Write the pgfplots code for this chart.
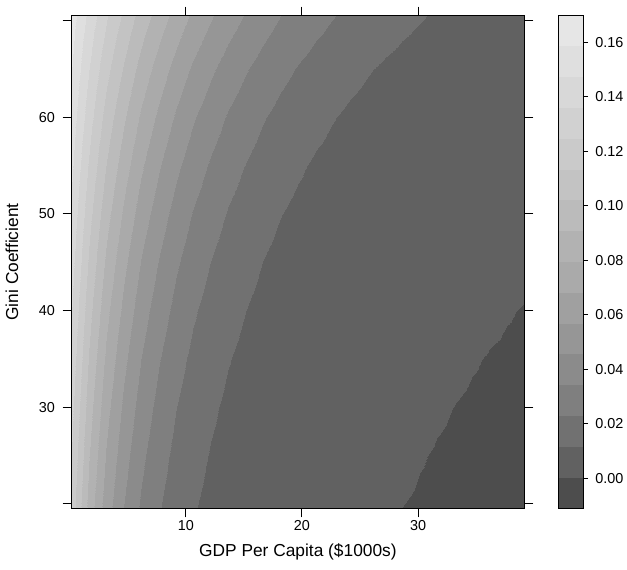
\documentclass[border=0pt]{standalone}
\usepackage{pgfplots}
\pgfplotsset{compat=1.18}
\usepackage{fontspec}
\setmainfont{Liberation Sans}
\pgfplotsset{colormap={lattice}{rgb255(0cm)=(77,77,77) rgb255(1cm)=(97,97,97) rgb255(2cm)=(113,113,113) rgb255(3cm)=(127,127,127) rgb255(4cm)=(139,139,139) rgb255(5cm)=(150,150,150) rgb255(6cm)=(160,160,160) rgb255(7cm)=(170,170,170) rgb255(8cm)=(178,178,178) rgb255(9cm)=(187,187,187) rgb255(10cm)=(195,195,195) rgb255(11cm)=(202,202,202) rgb255(12cm)=(209,209,209) rgb255(13cm)=(216,216,216) rgb255(14cm)=(223,223,223) rgb255(15cm)=(230,230,230) rgb255(16cm)=(230,230,230)}}
\definecolor{c0}{RGB}{77,77,77}
\definecolor{c1}{RGB}{97,97,97}
\definecolor{c2}{RGB}{113,113,113}
\definecolor{c3}{RGB}{127,127,127}
\definecolor{c4}{RGB}{139,139,139}
\definecolor{c5}{RGB}{150,150,150}
\definecolor{c6}{RGB}{160,160,160}
\definecolor{c7}{RGB}{170,170,170}
\definecolor{c8}{RGB}{178,178,178}
\definecolor{c9}{RGB}{187,187,187}
\definecolor{c10}{RGB}{195,195,195}
\definecolor{c11}{RGB}{202,202,202}
\definecolor{c12}{RGB}{209,209,209}
\definecolor{c13}{RGB}{216,216,216}
\definecolor{c14}{RGB}{223,223,223}
\definecolor{c15}{RGB}{230,230,230}
\newcommand{\tickfont}{\fontsize{10.8}{13}\selectfont}
\newcommand{\labfont}{\fontsize{13}{15}\selectfont}
\begin{document}
\begin{tikzpicture}
\useasboundingbox (0pt,0pt) rectangle (470.25pt,426.75pt);
\begin{axis}[at={(53.625pt,45.525pt)}, anchor=south west, scale only axis,
  width=339.6pt, height=369.45pt,
  xmin=0.15, xmax=39.15, ymin=19.55, ymax=70.5,
  xtick={10,20,30}, xticklabels={10,20,30},
  ytick={20,30,40,50,60,70}, yticklabels={,30,40,50,60,},
  tick align=outside, major tick length=6.75pt,
  every tick/.style={black, line width=0.75pt},
  axis line style={black, line width=0.75pt},
  axis on top,
  colormap name=lattice, colormap access=piecewise constant,
  point meta min=-0.01105, point meta max=0.16975,
  xticklabel style={font=\tickfont, anchor=center, inner sep=0pt, yshift=-6.5pt},
  yticklabel style={font=\tickfont, anchor=east, inner sep=0pt, xshift=-5.6pt},
  xlabel={GDP Per Capita (\$1000s)}, ylabel={Gini Coefficient},
  xlabel style={font=\labfont, at={(axis description cs:0.5,-0.0887)}, anchor=center, inner sep=0pt},
  ylabel style={font=\labfont, at={(axis description cs:-0.1314,0.5)}, anchor=center, inner sep=0pt},
]
\addplot[surf, shader=interp, mesh/cols=27, point meta=explicit] coordinates {
(0.15,19.55)[0.11933] (1.65,19.55)[0.086275] (3.15,19.55)[0.062375] (4.65,19.55)[0.045096] (6.15,19.55)[0.032603] (7.65,19.55)[0.023571] (9.15,19.55)[0.017042] (10.65,19.55)[0.012321] (12.15,19.55)[0.0089078] (13.65,19.55)[0.0064401] (15.15,19.55)[0.004656] (16.65,19.55)[0.0033662] (18.15,19.55)[0.0024337] (19.65,19.55)[0.0017595] (21.15,19.55)[0.0012721] (22.65,19.55)[0.0009197] (24.15,19.55)[0.00066492] (25.65,19.55)[0.00048073] (27.15,19.55)[0.00034756] (28.65,19.55)[0.00025128] (30.15,19.55)[0.00018167] (31.65,19.55)[0.00013134] (33.15,19.55)[0.000094957] (34.65,19.55)[0.000068652] (36.15,19.55)[0.000049634] (37.65,19.55)[0.000035884] (39.15,19.55)[0.000025943]
(0.15,25)[0.12343] (1.65,25)[0.091112] (3.15,25)[0.067256] (4.65,25)[0.049646] (6.15,25)[0.036647] (7.65,25)[0.027052] (9.15,25)[0.019969] (10.65,25)[0.01474] (12.15,25)[0.010881] (13.65,25)[0.0080317] (15.15,25)[0.0059288] (16.65,25)[0.0043764] (18.15,25)[0.0032305] (19.65,25)[0.0023847] (21.15,25)[0.0017603] (22.65,25)[0.0012994] (24.15,25)[0.00095917] (25.65,25)[0.00070803] (27.15,25)[0.00052264] (28.65,25)[0.0003858] (30.15,25)[0.00028479] (31.65,25)[0.00021022] (33.15,25)[0.00015518] (34.65,25)[0.00011455] (36.15,25)[0.000084557] (37.65,25)[0.000062418] (39.15,25)[0.000046075]
(0.15,30)[0.12732] (1.65,30)[0.095792] (3.15,30)[0.072072] (4.65,30)[0.054225] (6.15,30)[0.040797] (7.65,30)[0.030695] (9.15,30)[0.023094] (10.65,30)[0.017376] (12.15,30)[0.013073] (13.65,30)[0.0098357] (15.15,30)[0.0074001] (16.65,30)[0.0055677] (18.15,30)[0.004189] (19.65,30)[0.0031517] (21.15,30)[0.0023713] (22.65,30)[0.0017841] (24.15,30)[0.0013423] (25.65,30)[0.0010099] (27.15,30)[0.00075983] (28.65,30)[0.00057168] (30.15,30)[0.00043012] (31.65,30)[0.00032361] (33.15,30)[0.00024348] (34.65,30)[0.00018319] (36.15,30)[0.00013783] (37.65,30)[0.0001037] (39.15,30)[0.000078021]
(0.15,35)[0.13132] (1.65,35)[0.1007] (3.15,35)[0.077223] (4.65,35)[0.059219] (6.15,35)[0.045413] (7.65,35)[0.034825] (9.15,35)[0.026706] (10.65,35)[0.02048] (12.15,35)[0.015705] (13.65,35)[0.012044] (15.15,35)[0.0092359] (16.65,35)[0.0070826] (18.15,35)[0.0054314] (19.65,35)[0.0041652] (21.15,35)[0.0031941] (22.65,35)[0.0024494] (24.15,35)[0.0018784] (25.65,35)[0.0014405] (27.15,35)[0.0011047] (28.65,35)[0.00084715] (30.15,35)[0.00064966] (31.65,35)[0.0004982] (33.15,35)[0.00038205] (34.65,35)[0.00029298] (36.15,35)[0.00022468] (37.65,35)[0.0001723] (39.15,35)[0.00013213]
(0.15,40)[0.13545] (1.65,40)[0.10587] (3.15,40)[0.082754] (4.65,40)[0.064684] (6.15,40)[0.050559] (7.65,40)[0.039518] (9.15,40)[0.030888] (10.65,40)[0.024143] (12.15,40)[0.018871] (13.65,40)[0.01475] (15.15,40)[0.011529] (16.65,40)[0.0090114] (18.15,40)[0.0070436] (19.65,40)[0.0055055] (21.15,40)[0.0043033] (22.65,40)[0.0033636] (24.15,40)[0.0026291] (25.65,40)[0.002055] (27.15,40)[0.0016062] (28.65,40)[0.0012554] (30.15,40)[0.00098126] (31.65,40)[0.00076698] (33.15,40)[0.00059949] (34.65,40)[0.00046858] (36.15,40)[0.00036625] (37.65,40)[0.00028628] (39.15,40)[0.00022377]
(0.15,45)[0.13972] (1.65,45)[0.11131] (3.15,45)[0.088677] (4.65,45)[0.070647] (6.15,45)[0.056283] (7.65,45)[0.044839] (9.15,45)[0.035722] (10.65,45)[0.028459] (12.15,45)[0.022672] (13.65,45)[0.018062] (15.15,45)[0.01439] (16.65,45)[0.011464] (18.15,45)[0.0091331] (19.65,45)[0.0072761] (21.15,45)[0.0057967] (22.65,45)[0.0046181] (24.15,45)[0.0036791] (25.65,45)[0.0029311] (27.15,45)[0.0023352] (28.65,45)[0.0018604] (30.15,45)[0.0014821] (31.65,45)[0.0011808] (33.15,45)[0.00094071] (34.65,45)[0.00074944] (36.15,45)[0.00059706] (37.65,45)[0.00047566] (39.15,45)[0.00037895]
(0.15,50)[0.14412] (1.65,50)[0.11702] (3.15,50)[0.095025] (4.65,50)[0.077161] (6.15,50)[0.062655] (7.65,50)[0.050876] (9.15,50)[0.041312] (10.65,50)[0.033546] (12.15,50)[0.02724] (13.65,50)[0.022119] (15.15,50)[0.017961] (16.65,50)[0.014585] (18.15,50)[0.011843] (19.65,50)[0.0096166] (21.15,50)[0.0078088] (22.65,50)[0.0063408] (24.15,50)[0.0051487] (25.65,50)[0.0041808] (27.15,50)[0.0033948] (28.65,50)[0.0027566] (30.15,50)[0.0022384] (31.65,50)[0.0018176] (33.15,50)[0.0014759] (34.65,50)[0.0011984] (36.15,50)[0.00097312] (37.65,50)[0.0007902] (39.15,50)[0.00064165]
(0.15,55)[0.14864] (1.65,55)[0.12302] (3.15,55)[0.10182] (4.65,55)[0.084271] (6.15,55)[0.069747] (7.65,55)[0.057726] (9.15,55)[0.047777] (10.65,55)[0.039543] (12.15,55)[0.032727] (13.65,55)[0.027087] (15.15,55)[0.022419] (16.65,55)[0.018555] (18.15,55)[0.015357] (19.65,55)[0.012711] (21.15,55)[0.01052] (22.65,55)[0.008707] (24.15,55)[0.0072063] (25.65,55)[0.0059643] (27.15,55)[0.0049363] (28.65,55)[0.0040855] (30.15,55)[0.0033814] (31.65,55)[0.0027986] (33.15,55)[0.0023163] (34.65,55)[0.001917] (36.15,55)[0.0015866] (37.65,55)[0.0013132] (39.15,55)[0.0010869]
(0.15,60)[0.15332] (1.65,60)[0.12934] (3.15,60)[0.10911] (4.65,60)[0.092042] (6.15,60)[0.077645] (7.65,60)[0.0655] (9.15,60)[0.055255] (10.65,60)[0.046612] (12.15,60)[0.039321] (13.65,60)[0.033171] (15.15,60)[0.027983] (16.65,60)[0.023606] (18.15,60)[0.019913] (19.65,60)[0.016798] (21.15,60)[0.01417] (22.65,60)[0.011954] (24.15,60)[0.010084] (25.65,60)[0.0085067] (27.15,60)[0.0071761] (28.65,60)[0.0060536] (30.15,60)[0.0051067] (31.65,60)[0.0043079] (33.15,60)[0.003634] (34.65,60)[0.0030656] (36.15,60)[0.0025861] (37.65,60)[0.0021816] (39.15,60)[0.0018403]
(0.15,65)[0.15815] (1.65,65)[0.13598] (3.15,65)[0.11692] (4.65,65)[0.10053] (6.15,65)[0.086438] (7.65,65)[0.074321] (9.15,65)[0.063903] (10.65,65)[0.054945] (12.15,65)[0.047243] (13.65,65)[0.04062] (15.15,65)[0.034926] (16.65,65)[0.03003] (18.15,65)[0.02582] (19.65,65)[0.0222] (21.15,65)[0.019088] (22.65,65)[0.016412] (24.15,65)[0.014111] (25.65,65)[0.012133] (27.15,65)[0.010432] (28.65,65)[0.0089696] (30.15,65)[0.0077123] (31.65,65)[0.0066312] (33.15,65)[0.0057016] (34.65,65)[0.0049024] (36.15,65)[0.0042152] (37.65,65)[0.0036243] (39.15,65)[0.0031162]
(0.15,70.5)[0.16364] (1.65,70.5)[0.14368] (3.15,70.5)[0.12616] (4.65,70.5)[0.11077] (6.15,70.5)[0.097265] (7.65,70.5)[0.085404] (9.15,70.5)[0.074989] (10.65,70.5)[0.065844] (12.15,70.5)[0.057815] (13.65,70.5)[0.050765] (15.15,70.5)[0.044574] (16.65,70.5)[0.039138] (18.15,70.5)[0.034365] (19.65,70.5)[0.030174] (21.15,70.5)[0.026494] (22.65,70.5)[0.023263] (24.15,70.5)[0.020426] (25.65,70.5)[0.017935] (27.15,70.5)[0.015748] (28.65,70.5)[0.013828] (30.15,70.5)[0.012141] (31.65,70.5)[0.010661] (33.15,70.5)[0.0093608] (34.65,70.5)[0.0082193] (36.15,70.5)[0.0072169] (37.65,70.5)[0.0063368] (39.15,70.5)[0.005564]
};
\end{axis}
\begin{axis}[at={(418.5pt,45.525pt)}, anchor=south west, scale only axis,
  width=18.75pt, height=369.45pt,
  xmin=0, xmax=1, ymin=-0.01105, ymax=0.16975, xtick=\empty,
  scaled y ticks=false,
  ytick={0,0.02,0.04,0.06,0.08,0.10,0.12,0.14,0.16},
  yticklabels={0.00,0.02,0.04,0.06,0.08,0.10,0.12,0.14,0.16},
  ytick pos=right, yticklabel pos=right,
  tick align=outside, major tick length=3.75pt,
  every tick/.style={black, line width=0.75pt},
  axis line style={black, line width=0.75pt},
  axis on top,
  yticklabel style={font=\tickfont, anchor=west, inner sep=0pt, xshift=5.25pt},
]
\addplot[draw=none, fill=c0] coordinates {(0,-0.01105) (1,-0.01105) (1,0.00025) (0,0.00025)} -- cycle;
\addplot[draw=none, fill=c1] coordinates {(0,0.00025) (1,0.00025) (1,0.01155) (0,0.01155)} -- cycle;
\addplot[draw=none, fill=c2] coordinates {(0,0.01155) (1,0.01155) (1,0.02285) (0,0.02285)} -- cycle;
\addplot[draw=none, fill=c3] coordinates {(0,0.02285) (1,0.02285) (1,0.03415) (0,0.03415)} -- cycle;
\addplot[draw=none, fill=c4] coordinates {(0,0.03415) (1,0.03415) (1,0.04545) (0,0.04545)} -- cycle;
\addplot[draw=none, fill=c5] coordinates {(0,0.04545) (1,0.04545) (1,0.05675) (0,0.05675)} -- cycle;
\addplot[draw=none, fill=c6] coordinates {(0,0.05675) (1,0.05675) (1,0.06805) (0,0.06805)} -- cycle;
\addplot[draw=none, fill=c7] coordinates {(0,0.06805) (1,0.06805) (1,0.07935) (0,0.07935)} -- cycle;
\addplot[draw=none, fill=c8] coordinates {(0,0.07935) (1,0.07935) (1,0.09065) (0,0.09065)} -- cycle;
\addplot[draw=none, fill=c9] coordinates {(0,0.09065) (1,0.09065) (1,0.10195) (0,0.10195)} -- cycle;
\addplot[draw=none, fill=c10] coordinates {(0,0.10195) (1,0.10195) (1,0.11325) (0,0.11325)} -- cycle;
\addplot[draw=none, fill=c11] coordinates {(0,0.11325) (1,0.11325) (1,0.12455) (0,0.12455)} -- cycle;
\addplot[draw=none, fill=c12] coordinates {(0,0.12455) (1,0.12455) (1,0.13585) (0,0.13585)} -- cycle;
\addplot[draw=none, fill=c13] coordinates {(0,0.13585) (1,0.13585) (1,0.14715) (0,0.14715)} -- cycle;
\addplot[draw=none, fill=c14] coordinates {(0,0.14715) (1,0.14715) (1,0.15845) (0,0.15845)} -- cycle;
\addplot[draw=none, fill=c15] coordinates {(0,0.15845) (1,0.15845) (1,0.16975) (0,0.16975)} -- cycle;
\end{axis}
\end{tikzpicture}
\end{document}
